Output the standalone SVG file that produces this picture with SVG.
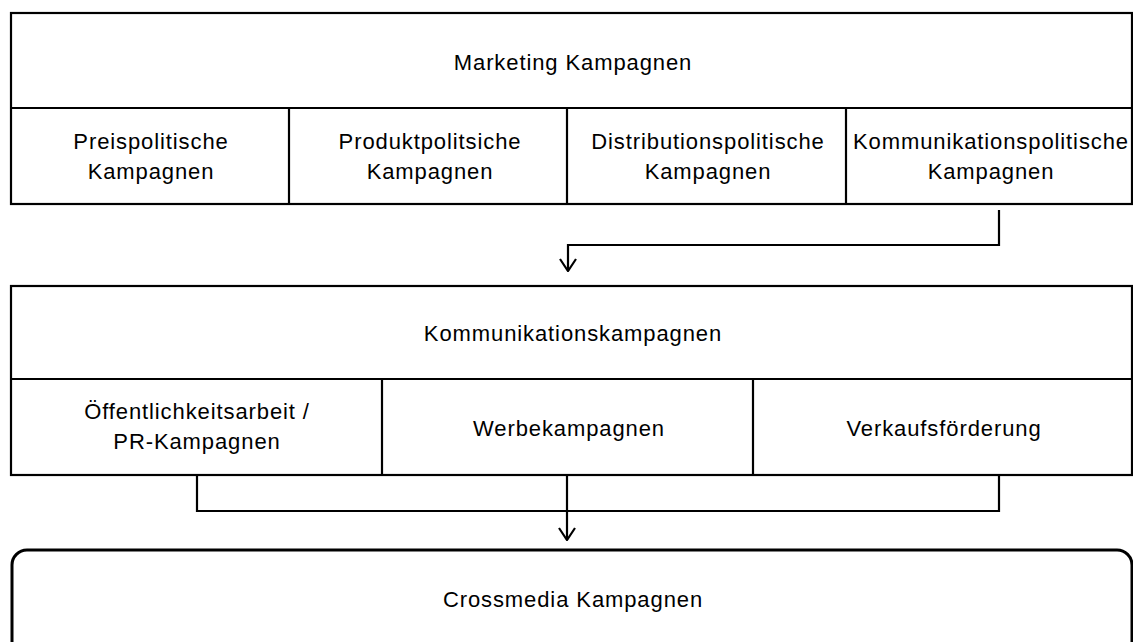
<svg xmlns="http://www.w3.org/2000/svg" width="1133" height="642" viewBox="0 0 1133 642">
<defs>
<style>
.box{fill:#fff;stroke:#000;stroke-width:2.2}
.ln{fill:none;stroke:#000;stroke-width:2.2}
.t{font-family:"Liberation Sans",Arial,sans-serif;font-size:22px;letter-spacing:0.9px;fill:#000;text-anchor:middle}
</style>
<marker id="arr" viewBox="0 0 14 18" refX="13" refY="9" markerWidth="14" markerHeight="18" markerUnits="userSpaceOnUse" orient="auto">
<path d="M1,1 L13,9 L1,17" fill="none" stroke="#000" stroke-width="2.2"/>
</marker>
</defs>
<rect width="1133" height="642" fill="#fff"/>
<g id="marketing">
<rect class="box" x="11" y="13" width="1121" height="191"/>
<line class="ln" x1="11" y1="108" x2="1132" y2="108"/>
<line class="ln" x1="289" y1="108" x2="289" y2="204"/>
<line class="ln" x1="567" y1="108" x2="567" y2="204"/>
<line class="ln" x1="846" y1="108" x2="846" y2="204"/>
<text class="t" x="573" y="70">Marketing Kampagnen</text>
</g>
<g id="preis"><text class="t" x="151" y="149">Preispolitische</text><text class="t" x="151" y="179">Kampagnen</text></g>
<g id="produkt"><text class="t" x="430" y="149">Produktpolitsiche</text><text class="t" x="430" y="179">Kampagnen</text></g>
<g id="distribution"><text class="t" x="708" y="149">Distributionspolitische</text><text class="t" x="708" y="179">Kampagnen</text></g>
<g id="kommpol"><text class="t" x="991" y="149">Kommunikationspolitische</text><text class="t" x="991" y="179">Kampagnen</text></g>
<g id="komm">
<rect class="box" x="11" y="286" width="1121" height="189"/>
<line class="ln" x1="11" y1="379" x2="1132" y2="379"/>
<line class="ln" x1="382" y1="379" x2="382" y2="475"/>
<line class="ln" x1="753" y1="379" x2="753" y2="475"/>
<text class="t" x="573" y="341">Kommunikationskampagnen</text>
</g>
<g id="pr"><text class="t" x="197" y="419">Öffentlichkeitsarbeit /</text><text class="t" x="197" y="449">PR-Kampagnen</text></g>
<g id="werbe"><text class="t" x="569" y="436">Werbekampagnen</text></g>
<g id="verkauf"><text class="t" x="944" y="436">Verkaufsförderung</text></g>
<g id="crossmedia">
<rect x="12" y="550" width="1120" height="110" rx="15" ry="15" fill="#fff" stroke="#000" stroke-width="3"/>
<text class="t" x="573" y="607">Crossmedia Kampagnen</text>
</g>
<g id="connectors">
<path class="ln" d="M999,210 V245 H568 V271" marker-end="url(#arr)"/>
<path class="ln" d="M197,475 V511 H999 V475"/>
<path class="ln" d="M567,475 V540" marker-end="url(#arr)"/>
</g>
</svg>
